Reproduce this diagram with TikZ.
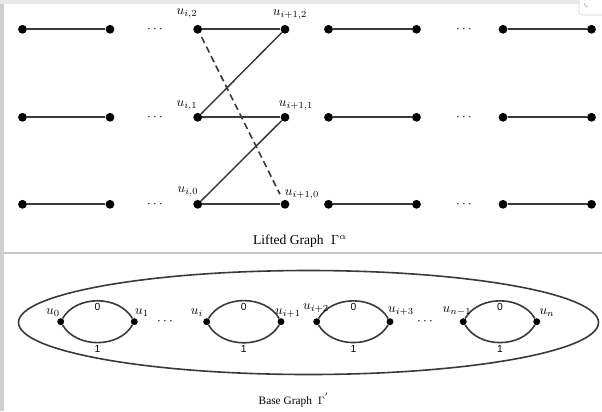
\documentclass[tikz,border=0pt]{standalone}
\usepackage{fontspec}
\setmainfont{Liberation Serif}
\newfontfamily\digitfont{Liberation Sans}
\definecolor{edgegray}{RGB}{58,58,58}
\definecolor{stripgray}{RGB}{208,208,208}
\definecolor{topgray}{RGB}{233,233,233}
\definecolor{sepgray}{RGB}{198,198,198}
\begin{document}
\begin{tikzpicture}[x=0.75pt,y=-0.75pt,
  vtx/.style={circle,fill=black,inner sep=0pt,minimum size=6.6pt},
  bvtx/.style={circle,fill=black,inner sep=0pt,minimum size=5.2pt},
  hedge/.style={draw=edgegray,line width=1.7pt},
  dedge/.style={draw=edgegray,line width=1.1pt},
  dashedge/.style={draw=edgegray,line width=1.2pt,dash pattern=on 5pt off 3pt},
  arcedge/.style={draw=edgegray,line width=1.2pt},
  lab/.style={inner sep=0pt,font=\fontsize{10.3}{12}\selectfont},
  dotsep/.style={inner sep=0pt,font=\fontsize{10}{12}\selectfont},
  weight/.style={inner sep=0pt,font=\digitfont\fontsize{7.7}{9}\selectfont},
  caption/.style={inner sep=0pt,anchor=base}]
\useasboundingbox (0,0) rectangle (602,411);
% page background and window strips
\fill[white] (0,0) rectangle (602,411);
\fill[topgray] (0,0) rectangle (602,4);
\fill[stripgray] (0,4) rectangle (4,411);
\fill[sepgray] (4,251.5) rectangle (602,253.5);
\draw[gray!35,fill=white,rounded corners=2pt] (579,-3) rectangle (605,15);
\draw[violet!35,line width=0.6pt] (584,3) arc[start angle=180,end angle=270,radius=3pt];

% ---------- lifted graph ----------
\foreach \r/\y in {0/204.3,1/117.3,2/29.3} {
  \foreach \c/\x in {1/22.5,2/110,3/197.7,4/285,5/328.5,6/416.5,7/503,8/591.5}
    \node[vtx] (v\r-\c) at (\x,\y) {};
  \draw[hedge] (v\r-1) -- (v\r-2);
  \draw[hedge] (v\r-3) -- (v\r-4);
  \draw[hedge] (v\r-5) -- (v\r-6);
  \draw[hedge] (v\r-7) -- (v\r-8);
  \node[dotsep] (dl\r) at (155,\y) {$\cdots$};
  \node[dotsep] (dr\r) at (464,\y) {$\cdots$};
}
\draw[dedge] (v1-3) -- (v2-4);
\draw[dedge] (v0-3) -- (v1-4);
\draw[dashedge,shorten <=3pt,shorten >=5pt] (v2-3) -- (v0-4);

\node[lab] (l23) at (187,13.5) {$u_{i,2}$};
\node[lab] (l24) at (290,15) {$u_{i+1,2}$};
\node[lab] (l13) at (187,106) {$u_{i,1}$};
\node[lab] (l14) at (296,106) {$u_{i+1,1}$};
\node[lab] (l03) at (188,191.5) {$u_{i,0}$};
\node[lab] (l04) at (302,194.5) {$u_{i+1,0}$};

\node[caption,font=\fontsize{10.2}{12}\selectfont] (cap1) at (300,244) {Lifted Graph\; $\Gamma^{\alpha}$};

% ---------- base graph ----------
\draw[arcedge] (308.5,322.5) ellipse [x radius=217.5pt, y radius=39pt];

\foreach \n/\x in {0/60.7,1/134.3,2/206.7,3/281,4/316.7,5/390,6/463.3,7/536.7}
  \node[bvtx] (b\n) at (\x,321.7) {};
\foreach \a/\b in {0/1,2/3,4/5,6/7} {
  \draw[arcedge] (b\a) to[bend left=60] node[weight,pos=0.5,below=1.5pt] (w0-\a) {0} (b\b);
  \draw[arcedge] (b\a) to[bend right=60] node[weight,pos=0.5,below=1.5pt] (w1-\a) {1} (b\b);
}
\node[dotsep] (bd1) at (165,322) {$\cdots$};
\node[dotsep] (bd2) at (425,322) {$\cdots$};

\node[lab] (bl0) at (53,313) {$u_0$};
\node[lab] (bl1) at (142,313) {$u_1$};
\node[lab] (bl2) at (197,313) {$u_i$};
\node[lab] (bl3) at (288,313) {$u_{i+1}$};
\node[lab] (bl4) at (316,308) {$u_{i+2}$};
\node[lab] (bl5) at (401,311.5) {$u_{i+3}$};
\node[lab] (bl6) at (457,311.5) {$u_{n-1}$};
\node[lab] (bl7) at (547,313) {$u_n$};

\node[caption,font=\fontsize{8.5}{10}\selectfont] (cap2) at (294,404) {Base Graph\; $\Gamma^{'}$};
\end{tikzpicture}
\end{document}
